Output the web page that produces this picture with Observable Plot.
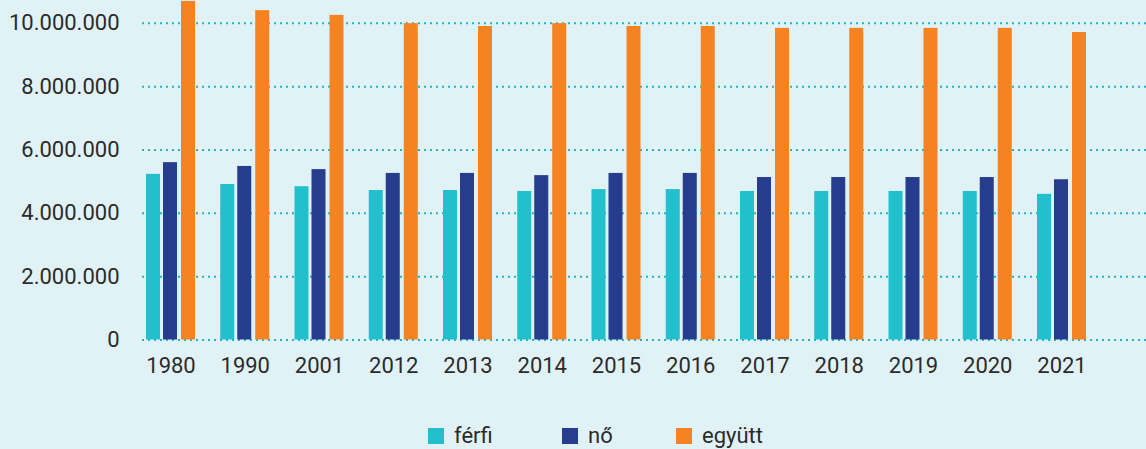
<!DOCTYPE html>
<html>
<head>
<meta charset="utf-8">
<script src="https://cdn.jsdelivr.net/npm/d3@7"></script>
<script src="https://cdn.jsdelivr.net/npm/@observablehq/plot@0.6"></script>
<style>
  html, body { margin: 0; padding: 0; background: #e1f2f7; }
  body { width: 1146px; height: 449px; overflow: hidden; font-family: Roboto, sans-serif; color: #2b2b2b; }
  #chart svg { display: block; }
  .legend { position: relative; height: 59px; }
  .legend .item { position: absolute; top: 38px; display: flex; align-items: center; font-size: 22px; line-height: 16px; }
  .legend .sw { width: 16px; height: 16px; margin-right: 10px; flex: none; }
</style>
</head>
<body>
<div id="chart"></div>
<div class="legend" id="legend"></div>
<script>
const years = ["1980","1990","2001","2012","2013","2014","2015","2016","2017","2018","2019","2020","2021"];
const ferfi  = [5230000,4910000,4840000,4720000,4720000,4690000,4750000,4750000,4690000,4690000,4690000,4690000,4600000];
const no     = [5600000,5480000,5380000,5260000,5260000,5190000,5260000,5260000,5130000,5130000,5130000,5130000,5060000];
const egyutt = [10690000,10400000,10250000,9990000,9900000,9990000,9900000,9900000,9840000,9840000,9840000,9840000,9710000];
const seriesNames = ["férfi","nő","együtt"];
const seriesColors = ["#22bfcc","#253d8c","#f58322"];
const yTicks = [0,2000000,4000000,6000000,8000000,10000000];

const huFormat = d3.formatLocale({decimal: ",", thousands: ".", grouping: [3], currency: ["", ""]}).format(",d");

const rows = (vals) => years.map((y, i) => ({year: y, value: vals[i]}));

const insets = [
  {insetLeft: 0, insetRight: 35},
  {insetLeft: 17, insetRight: 18},
  {insetLeft: 35, insetRight: 0}
];

const plot = Plot.plot({
  width: 1146,
  height: 390,
  marginLeft: 142,
  marginRight: 0,
  marginTop: 0,
  marginBottom: 50.5,
  style: {background: "transparent", fontSize: "22px", fontFamily: "Roboto, sans-serif", color: "#2b2b2b"},
  x: {domain: years, range: [146, 1086], paddingInner: 0.34, paddingOuter: 0, round: false, tickSize: 0, tickPadding: 17, label: null},
  y: {domain: [0, 10720000], ticks: yTicks, tickFormat: huFormat, tickSize: 0, tickPadding: 23, label: null},
  marks: [
    Plot.ruleY(yTicks, {stroke: "#1fb5cc", strokeWidth: 2, strokeDasharray: "2,4"}),
    ...[ferfi, no, egyutt].map((vals, k) =>
      Plot.barY(rows(vals), {x: "year", y: "value", fill: seriesColors[k], ...insets[k]})
    )
  ]
});
document.getElementById("chart").appendChild(plot);

const legend = document.getElementById("legend");
const lefts = [428, 562, 676];
seriesNames.forEach((name, k) => {
  const it = document.createElement("div");
  it.className = "item";
  it.style.left = lefts[k] + "px";
  const sw = document.createElement("span");
  sw.className = "sw";
  sw.style.background = seriesColors[k];
  const tx = document.createElement("span");
  tx.textContent = name;
  it.appendChild(sw); it.appendChild(tx);
  legend.appendChild(it);
});
</script>
</body>
</html>
